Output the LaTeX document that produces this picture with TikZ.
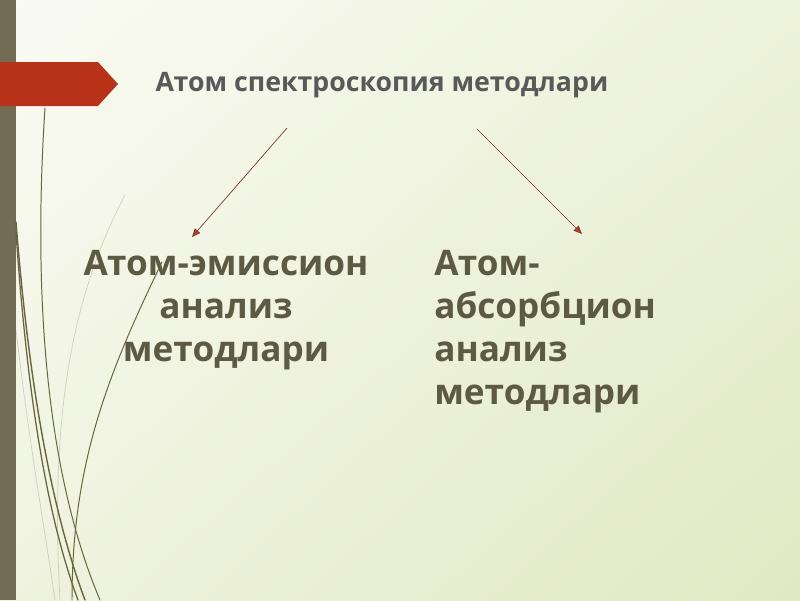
\documentclass[tikz,border=0pt]{standalone}
\usepackage{fontspec}
\setmainfont{Open Sans}
\usetikzlibrary{arrows.meta, shadings}
\definecolor{bgtl}{HTML}{FAFBF4}
\definecolor{bgtr}{HTML}{EDF2DA}
\definecolor{bgbl}{HTML}{EFF3DF}
\definecolor{bgbr}{HTML}{E1E9C3}
\definecolor{sidebar}{HTML}{736C55}
\definecolor{banner}{HTML}{B8321A}
\definecolor{titlegray}{HTML}{595959}
\definecolor{bodyolive}{HTML}{5C5A42}
\definecolor{arrowline}{HTML}{7A3A2E}
\definecolor{arrowhead}{HTML}{C0392B}
\definecolor{stem}{HTML}{66653E}
\tikzset{
  titletext/.style={font=\fontsize{19}{23}\selectfont\bfseries, text=titlegray, inner sep=0pt, anchor=base},
  bodytext/.style={font=\fontsize{25}{30.5}\selectfont\bfseries, text=bodyolive, inner sep=0pt},
  pointer/.style={draw=arrowline, line width=0.5pt, -{Triangle[length=6pt, width=5pt, fill=arrowhead]}},
  stemline/.style={draw=stem, line cap=round}
}
\begin{document}
\begin{tikzpicture}[x=0.025cm, y=-0.025cm]
    % Background
    \useasboundingbox (0,0) rectangle (800,600);
    \shade[upper left=bgtl, upper right=bgtr, lower left=bgbl, lower right=bgbr] (0,0) rectangle (800,600);
    \fill[sidebar] (0,0) rectangle (16,600);
    % Stems
    \draw[stemline, line width=0.7pt] (45,108) .. controls (33,290) and (45,470) .. (100,600);
    \draw[stemline, line width=1pt] (16,222) .. controls (30,400) and (55,520) .. (85,600);
    \draw[stemline, line width=0.9pt] (16,232) .. controls (28,410) and (50,525) .. (78,600);
    \draw[stemline, line width=0.7pt] (162,262) .. controls (110,370) and (72,460) .. (72,600);
    \draw[stemline, line width=0.5pt, opacity=0.25] (125,195) .. controls (70,300) and (50,420) .. (60,600);
    \draw[stemline, line width=0.5pt, opacity=0.25] (16,330) .. controls (30,450) and (45,530) .. (55,600);
    % Banner
    \fill[banner] (0,62) -- (98,62) -- (118,84) -- (98,106) -- (0,106) -- cycle;
    % Nodes
    \node[titletext] (title) at (382,91) {Атом спектроскопия методлари};
    \node[bodytext, align=center, anchor=base] (emission) at (226,361) {Атом-эмиссион\\анализ\\методлари};
    \node[bodytext, align=left, anchor=base west] (absorption) at (434,404) {Атом-\\абсорбцион\\анализ\\методлари};
    \coordinate (leftstart) at (287,128);
    \coordinate (leftend) at (192,237);
    \coordinate (rightstart) at (477,129);
    \coordinate (rightend) at (582,234);
    % Connection
    \draw[pointer] (leftstart) -- (leftend);
    \draw[pointer] (rightstart) -- (rightend);
  \end{tikzpicture}
\end{document}
